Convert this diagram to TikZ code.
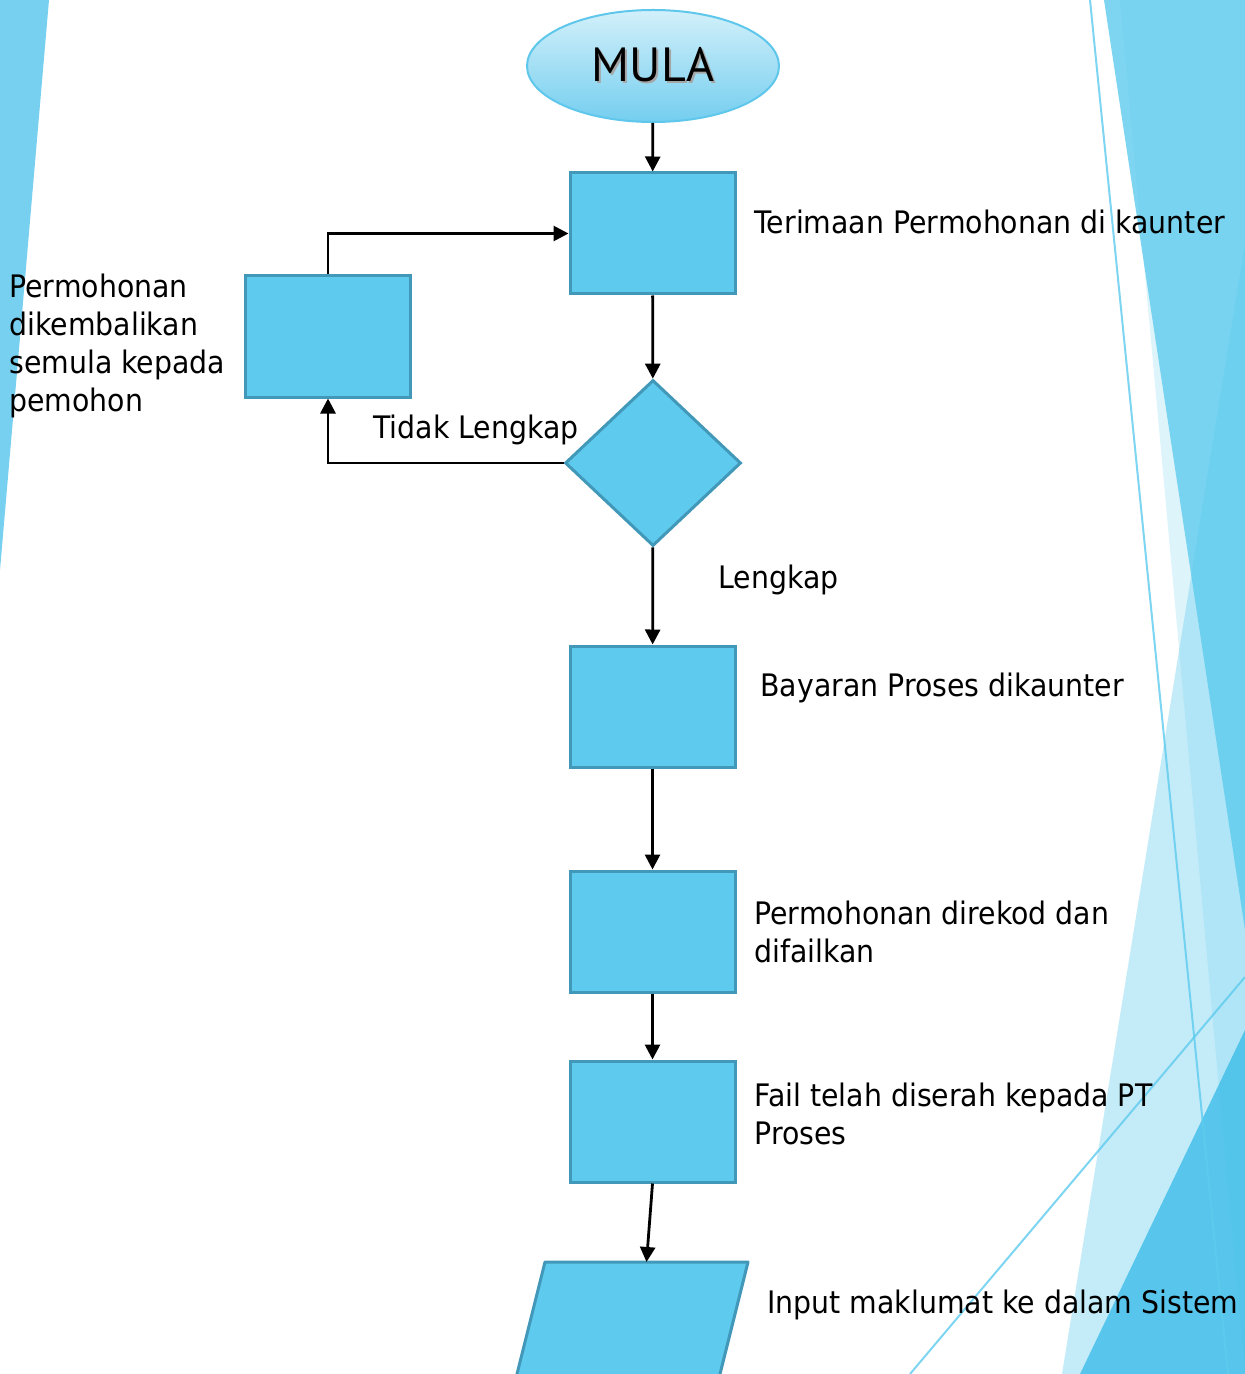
\documentclass[tikz,border=0pt]{standalone}
\usepackage{fontspec}
\setmainfont{DejaVu Sans}[FakeStretch=0.915]
\newfontfamily\mulafont{PT Sans}
\usetikzlibrary{shapes.geometric,arrows.meta}
\definecolor{facet}{RGB}{94,203,238}
\definecolor{deep}{RGB}{61,189,233}
\definecolor{strip}{RGB}{119,208,240}
\definecolor{boxfill}{RGB}{94,203,238}
\definecolor{boxline}{RGB}{66,152,184}
\definecolor{mulatop}{RGB}{210,240,250}
\definecolor{mulabot}{RGB}{116,206,239}
\definecolor{mulaline}{RGB}{95,199,235}
\tikzset{
  proses/.style={draw=boxline,fill=boxfill,line width=1.5pt,minimum width=82.5pt,minimum height=60.5pt,inner sep=0pt},
  semakan/.style={diamond,draw=boxline,fill=boxfill,line width=1.5pt,minimum width=88pt,minimum height=83pt,inner sep=0pt},
  panah/.style={-{Triangle[length=7.5pt,width=7.5pt]},line width=1.4pt},
  teks/.style={font=\fontsize{15.5}{19}\selectfont,inner sep=0pt,align=left}
}
\begin{document}
\begin{tikzpicture}[x=0.5pt,y=-0.5pt]
\useasboundingbox (0,0) rectangle (1245,1374);
\clip (0,0) rectangle (1245,1374);
\fill[white] (0,0) rectangle (1245,1374);
\fill[strip] (0,0)--(49,0)--(0,570)--cycle;
\fill[facet,fill opacity=0.36] (1062,1374)--(1245,243)--(1245,1374)--cycle;
\fill[facet,fill opacity=0.2] (1120,0)--(1245,0)--(1245,1374)--cycle;
\fill[facet,fill opacity=0.8] (1104,0)--(1245,0)--(1245,930)--cycle;
\fill[deep,fill opacity=0.8] (1080,1374)--(1245,1030)--(1245,1374)--cycle;
\draw[facet,opacity=0.8,line width=1pt] (1090,0)--(1228,1374);
\draw[facet,opacity=0.8,line width=1pt] (910,1374)--(1245,977);
\node[ellipse,draw=mulaline,line width=1pt,top color=mulatop,bottom color=mulabot,minimum width=126pt,minimum height=56pt,inner sep=0pt,font=\mulafont\fontsize{24}{24}\selectfont] (mula) at (653,66) {\rlap{\kern1pt\raisebox{-1pt}{\textcolor{black!35}{MULA}}}MULA};
\node[proses] (terima) at (652.5,233.5) {};
\node[proses] (balik) at (328,336.5) {};
\node[semakan] (semak) at (653,463) {};
\node[proses] (bayar) at (652.5,706.5) {};
\node[proses] (rekod) at (652.5,931.5) {};
\node[proses] (fail) at (652.5,1121.5) {};
\filldraw[draw=boxline,fill=boxfill,line width=1.5pt,line join=round] (545,1262)--(748,1262)--(716,1390)--(513,1390)--cycle;
\coordinate (input) at (646.5,1262);
\draw[panah] (mula) -- (terima);
\draw[panah] (terima) -- (semak);
\draw[panah] (semak.west) -| (balik.south);
\draw[panah] (balik.north) |- (terima.west);
\draw[panah] (semak) -- (bayar);
\draw[panah] (bayar) -- (rekod);
\draw[panah] (rekod) -- (fail);
\draw[panah] (fail.south) -- (input);
\node[teks,anchor=base west] (lterima) at (754,234) {Terimaan Permohonan di kaunter};
\node[teks,anchor=north west] (lbalik) at (9,274) {Permohonan\\dikembalikan\\semula kepada\\pemohon};
\node[teks,anchor=base west] (ltidak) at (373,438) {Tidak Lengkap};
\node[teks,anchor=base west] (llengkap) at (718,588) {Lengkap};
\node[teks,anchor=base west] (lbayar) at (760,696) {Bayaran Proses dikaunter};
\node[teks,anchor=north west] (lrekod) at (754,901) {Permohonan direkod dan\\difailkan};
\node[teks,anchor=north west] (lfail) at (754,1083) {Fail telah diserah kepada PT\\Proses};
\node[teks,anchor=base west] (linput) at (767,1313) {Input maklumat ke dalam Sistem};
\end{tikzpicture}
\end{document}
